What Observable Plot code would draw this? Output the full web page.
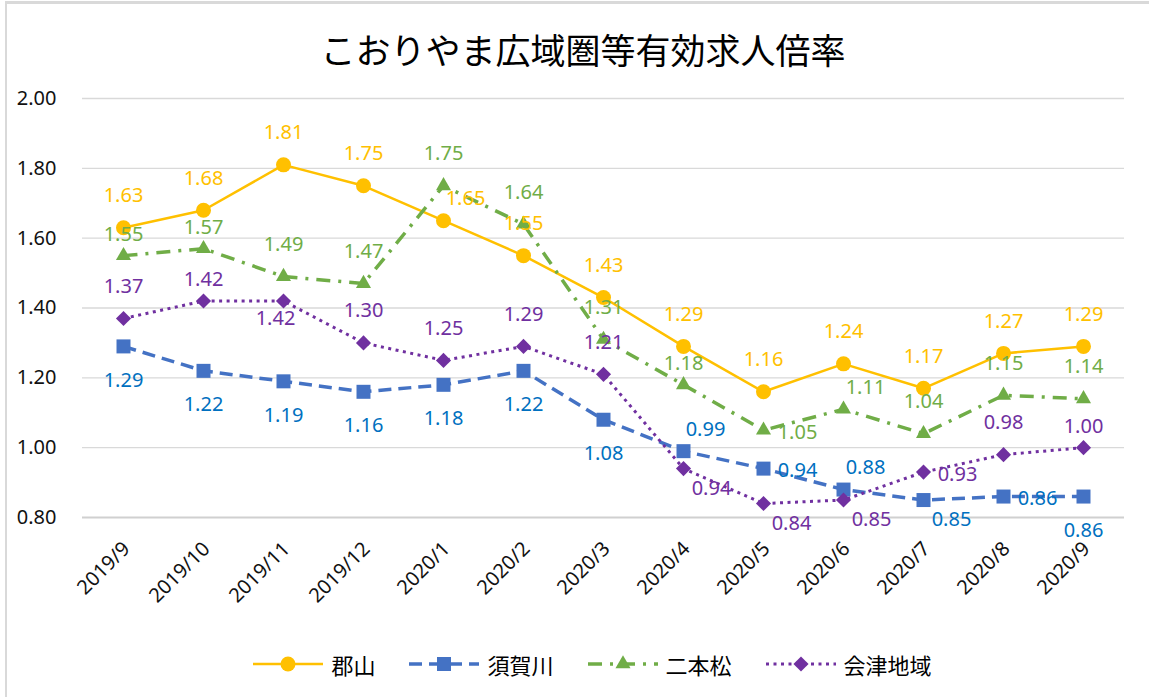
<!DOCTYPE html>
<html>
<head>
<meta charset="utf-8">
<script src="https://cdn.jsdelivr.net/npm/d3@7"></script>
<script src="https://cdn.jsdelivr.net/npm/@observablehq/plot@0.6"></script>
<style>
  html, body { margin: 0; padding: 0; background: #fff; }
  #wrap { position: relative; width: 1149px; height: 697px; overflow: hidden; background: #fff; }
  #frame { position: absolute; left: 5px; top: 1px; width: 1200px; height: 760px; border: 2px solid #d9d9d9; border-top-width: 3px; box-sizing: border-box; }
  #title { position: absolute; left: 0; top: 27px; width: 1166px; text-align: center; font-family: "Noto Sans CJK JP", sans-serif; font-size: 35px; line-height: 44px; color: #000; }
  #chart { position: absolute; left: 0; top: 80px; }
  #legend { position: absolute; top: 650px; left: 0; width: 1185px; height: 28px; display: flex; justify-content: center; align-items: center; gap: 34px; font-family: "Noto Sans CJK JP", sans-serif; font-size: 22px; color: #000; }
  .item { display: flex; align-items: center; gap: 8px; }
  .item svg { display: block; }
</style>
</head>
<body>
<div id="wrap">
  <div id="frame"></div>
  <div id="title"></div>
  <div id="chart"></div>
  <div id="legend"></div>
</div>
<script>
// ---- data ----
const titleText = "こおりやま広域圏等有効求人倍率";
const months = ["2019/9","2019/10","2019/11","2019/12","2020/1","2020/2","2020/3","2020/4","2020/5","2020/6","2020/7","2020/8","2020/9"];
const seriesNames = ["郡山","須賀川","二本松","会津地域"];
const koriyama   = [1.63,1.68,1.81,1.75,1.65,1.55,1.43,1.29,1.16,1.24,1.17,1.27,1.29];
const sukagawa   = [1.29,1.22,1.19,1.16,1.18,1.22,1.08,0.99,0.94,0.88,0.85,0.86,0.86];
const nihonmatsu = [1.55,1.57,1.49,1.47,1.75,1.64,1.31,1.18,1.05,1.11,1.04,1.15,1.14];
const aizu       = [1.37,1.42,1.42,1.30,1.25,1.29,1.21,0.94,0.84,0.85,0.93,0.98,1.00];
const yTicks = [0.8,1.0,1.2,1.4,1.6,1.8,2.0];

// label placement (Excel-style positions) per point
const placeKoriyama   = ["t","t","t","t","tr","t","t","t","t","t","t","t","t"];
const placeSukagawa   = ["b","b","b","b","b","b","b","tr","r","tr","br","r","b"];
const placeNihonmatsu = ["t2","t2","t","t","t","t","t","t2","r","tr","t","t","t"];
const placeAizu       = ["t","t2","bl","t","t","t","t","br","br","br","r","t","t2"];

// ---- styles ----
const offsets = { t:[0,-32], t2:[0,-21], b:[0,34], r:[34,2], tr:[22,-22], br:[28,20], bl:[-8,18] };
const styles = {
  "郡山":   { stroke:"#FFC000", label:"#FFC000", width:2.5, dash:null, symbol:"circle", r:7.5 },
  "須賀川": { stroke:"#4472C4", label:"#0070C0", width:3.5, dash:"13,7", symbol:"square", r:7.9 },
  "二本松": { stroke:"#70AD47", label:"#70AD47", width:3.5, dash:"14,8,3,8", symbol:"triangle", r:5.6 },
  "会津地域": { stroke:"#7030A0", label:"#7030A0", width:3, dash:"3,4.5", symbol:"diamond2", r:6.8 }
};
const valuesBy = { "郡山":koriyama, "須賀川":sukagawa, "二本松":nihonmatsu, "会津地域":aizu };
const placeBy  = { "郡山":placeKoriyama, "須賀川":placeSukagawa, "二本松":placeNihonmatsu, "会津地域":placeAizu };

const rows = seriesNames.flatMap(s => months.map((m, i) => ({ series: s, month: m, value: valuesBy[s][i], place: placeBy[s][i] })));

document.getElementById("title").textContent = titleText;

const marks = [
  Plot.ruleY(yTicks.filter(v => v > 0.8), { y: d => d, stroke: "#d9d9d9", strokeWidth: 1.3 }),
  Plot.ruleY([0.8], { y: d => d, stroke: "#d0d0d0", strokeWidth: 2 }),
  Plot.axisY({ ticks: yTicks, tickFormat: d => d.toFixed(2), tickSize: 0, tickPadding: 26, fontSize: 20, fill: "#111", label: null }),
  Plot.text(months, { x: d => d, text: d => d, frameAnchor: "bottom", rotate: -45, textAnchor: "end", lineAnchor: "middle", dx: 3, dy: 28, fontSize: 20, fill: "#111" })
];
for (const s of seriesNames) {
  const st = styles[s];
  const data = rows.filter(d => d.series === s);
  marks.push(Plot.line(data, { x: "month", y: "value", stroke: st.stroke, strokeWidth: st.width, strokeDasharray: st.dash, strokeLinecap: "butt", strokeLinejoin: "round" }));
  marks.push(Plot.dot(data, { x: "month", y: "value", symbol: st.symbol, r: st.r, fill: st.stroke, stroke: "none" }));
}
for (const s of seriesNames) {
  const st = styles[s];
  for (const k of Object.keys(offsets)) {
    const data = rows.filter(d => d.series === s && d.place === k);
    if (!data.length) continue;
    marks.push(Plot.text(data, { x: "month", y: "value", text: d => d.value.toFixed(2), fill: st.label, fontSize: 20, dx: offsets[k][0], dy: offsets[k][1] }));
  }
}

const chart = Plot.plot({
  width: 1149,
  height: 550,
  marginTop: 18,
  marginBottom: 113,
  marginLeft: 82,
  marginRight: 25,
  style: { fontFamily: "'Noto Sans', sans-serif", background: "transparent", overflow: "visible" },
  x: { type: "point", domain: months, padding: 0.5, axis: null },
  y: { domain: [0.8, 2.0], axis: null },
  marks
});
document.getElementById("chart").appendChild(chart);

// ---- legend ----
const legend = document.getElementById("legend");
for (const s of seriesNames) {
  const st = styles[s];
  const item = document.createElement("div");
  item.className = "item";
  const sym = d3.symbol().type({circle: d3.symbolCircle, square: d3.symbolSquare, triangle: d3.symbolTriangle, diamond2: d3.symbolDiamond2}[st.symbol]).size(st.symbol === "circle" ? Math.PI * 56 : Math.PI * st.r * st.r)();
  item.innerHTML = `<svg width="70" height="20"><line x1="0" x2="70" y1="10" y2="10" stroke="${st.stroke}" stroke-width="${st.width}" ${st.dash ? `stroke-dasharray="${st.dash}"` : ""}/><path transform="translate(35,10)" d="${sym}" fill="${st.stroke}"/></svg><span>${s}</span>`;
  legend.appendChild(item);
}
</script>
</body>
</html>
